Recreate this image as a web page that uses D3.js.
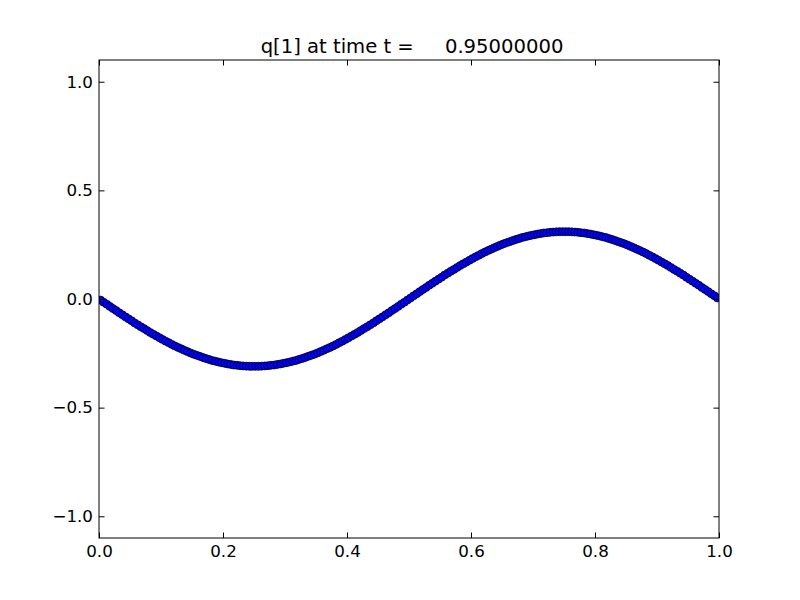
<!DOCTYPE html>
<html>
<head>
<meta charset="utf-8">
<script src="https://cdn.jsdelivr.net/npm/d3@7/dist/d3.min.js"></script>
<style>
  html, body { margin: 0; padding: 0; background: #ffffff; }
  svg { display: block; }
  text { font-family: "DejaVu Sans", sans-serif; fill: #000; }
</style>
</head>
<body>
<script>
// ---- data ----
const titleText = "q[1] at time t =     0.95000000";
const xLower = 0.0, xUpper = 1.0, nCells = 200;   // cell-centred grid
const qValues = [
 -0.005,-0.015,-0.024,-0.034,-0.044,-0.053,-0.063,-0.072,-0.082,-0.091,
 -0.100,-0.110,-0.119,-0.128,-0.136,-0.145,-0.154,-0.162,-0.170,-0.178,
 -0.186,-0.194,-0.201,-0.209,-0.216,-0.223,-0.229,-0.236,-0.242,-0.248,
 -0.254,-0.259,-0.264,-0.269,-0.274,-0.278,-0.283,-0.286,-0.290,-0.293,
 -0.296,-0.299,-0.301,-0.304,-0.305,-0.307,-0.308,-0.309,-0.310,-0.310,
 -0.310,-0.310,-0.309,-0.308,-0.307,-0.305,-0.304,-0.301,-0.299,-0.296,
 -0.293,-0.290,-0.286,-0.283,-0.278,-0.274,-0.269,-0.264,-0.259,-0.254,
 -0.248,-0.242,-0.236,-0.229,-0.223,-0.216,-0.209,-0.201,-0.194,-0.186,
 -0.178,-0.170,-0.162,-0.154,-0.145,-0.136,-0.128,-0.119,-0.110,-0.100,
 -0.091,-0.082,-0.072,-0.063,-0.053,-0.044,-0.034,-0.024,-0.015,-0.005,
  0.005, 0.015, 0.024, 0.034, 0.044, 0.053, 0.063, 0.072, 0.082, 0.091,
  0.100, 0.110, 0.119, 0.128, 0.136, 0.145, 0.154, 0.162, 0.170, 0.178,
  0.186, 0.194, 0.201, 0.209, 0.216, 0.223, 0.229, 0.236, 0.242, 0.248,
  0.254, 0.259, 0.264, 0.269, 0.274, 0.278, 0.283, 0.286, 0.290, 0.293,
  0.296, 0.299, 0.301, 0.304, 0.305, 0.307, 0.308, 0.309, 0.310, 0.310,
  0.310, 0.310, 0.309, 0.308, 0.307, 0.305, 0.304, 0.301, 0.299, 0.296,
  0.293, 0.290, 0.286, 0.283, 0.278, 0.274, 0.269, 0.264, 0.259, 0.254,
  0.248, 0.242, 0.236, 0.229, 0.223, 0.216, 0.209, 0.201, 0.194, 0.186,
  0.178, 0.170, 0.162, 0.154, 0.145, 0.136, 0.128, 0.119, 0.110, 0.100,
  0.091, 0.082, 0.072, 0.063, 0.053, 0.044, 0.034, 0.024, 0.015, 0.005
];
const xTicks = [0.0, 0.2, 0.4, 0.6, 0.8, 1.0];
const yTicks = [-1.0, -0.5, 0.0, 0.5, 1.0];
const xDomain = [0, 1];
const yDomain = [-1.1, 1.1];

// ---- layout ----
const W = 800, H = 600;
const L = 99, R = 719, T = 60, B = 538;

const svg = d3.select("body").append("svg").attr("width", W).attr("height", H);

const x = d3.scaleLinear().domain(xDomain).range([L, R]);
const y = d3.scaleLinear().domain(yDomain).range([B, T]);

const dx = (xUpper - xLower) / nCells;
const pts = qValues.map((v, i) => ({ x: xLower + (i + 0.5) * dx, q: v }));

const fmt = v => (v < 0 ? "\u2212" : "") + Math.abs(v).toFixed(1);

// clip for markers
svg.append("clipPath").attr("id", "clip")
  .append("rect").attr("x", L).attr("y", T).attr("width", R - L).attr("height", B - T);

// markers
svg.append("g").attr("clip-path", "url(#clip)")
  .selectAll("circle").data(pts).join("circle")
  .attr("cx", d => x(d.x)).attr("cy", d => y(d.q))
  .attr("r", 4.0)
  .attr("fill", "#0000ff")
  .attr("stroke", "#000")
  .attr("stroke-width", 0.7);

// axes (ticks inward on all sides)
const tickLen = 5.5;
const axB = svg.append("g").attr("transform", `translate(0,${B})`)
  .call(d3.axisBottom(x).tickValues(xTicks).tickFormat(fmt).tickSizeInner(-tickLen).tickSizeOuter(0).tickPadding(7));
const axT = svg.append("g").attr("transform", `translate(0,${T})`)
  .call(d3.axisTop(x).tickValues(xTicks).tickFormat("").tickSizeInner(-tickLen).tickSizeOuter(0));
const axL = svg.append("g").attr("transform", `translate(${L},0)`)
  .call(d3.axisLeft(y).tickValues(yTicks).tickFormat(fmt).tickSizeInner(-tickLen).tickSizeOuter(0).tickPadding(6));
const axR = svg.append("g").attr("transform", `translate(${R},0)`)
  .call(d3.axisRight(y).tickValues(yTicks).tickFormat("").tickSizeInner(-tickLen).tickSizeOuter(0));

[axB, axT, axL, axR].forEach(a => {
  a.select(".domain").remove();
  a.selectAll("line").attr("stroke", "#000").attr("stroke-width", 1);
  a.selectAll("text").style("font-family", "'DejaVu Sans', sans-serif").style("font-size", "16.7px").attr("fill", "#000");
});

// frame
svg.append("rect").attr("x", L).attr("y", T).attr("width", R - L).attr("height", B - T)
  .attr("fill", "none").attr("stroke", "#000").attr("stroke-width", 1);

// title
svg.append("text")
  .attr("x", (L + R) / 2 + 3).attr("y", 53)
  .attr("text-anchor", "middle")
  .style("font-size", "19.6px")
  .style("white-space", "pre")
  .attr("xml:space", "preserve")
  .text(titleText);
</script>
</body>
</html>
